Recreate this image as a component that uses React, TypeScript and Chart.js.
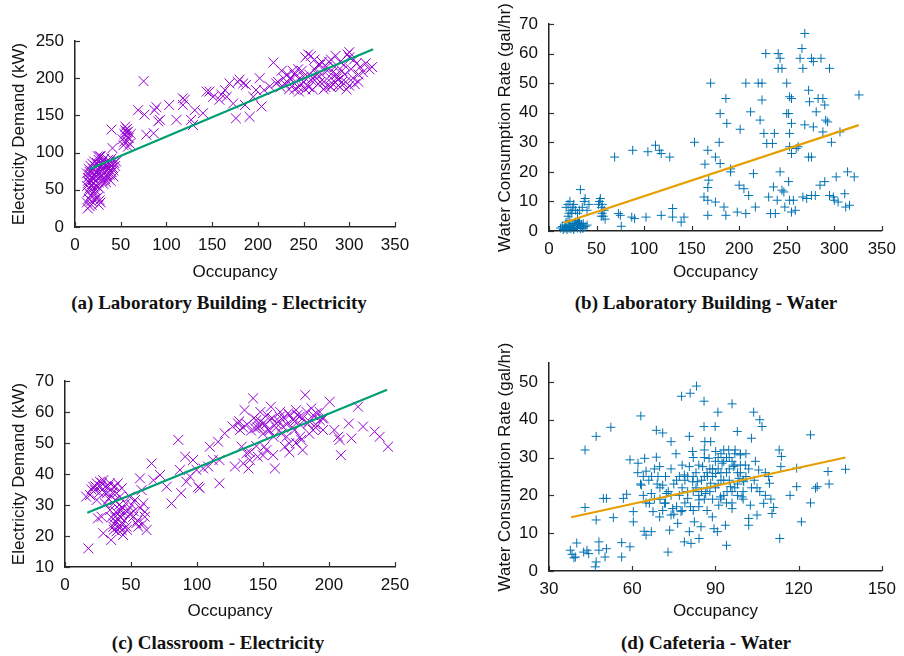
import React, { useEffect, useRef } from 'react';
import { Chart, registerables } from 'chart.js';

Chart.register(...registerables);

// ---------------- DATA ----------------
// (a) Laboratory Building - Electricity : [occupancy, kW]
const labElecPoints: number[][] = [
  [14,25],[16,28],[13,33],[18,30],[15,38],[17,42],[14,47],[19,45],[16,52],[13,55],[18,57],[15,60],[20,58],[17,63],[14,66],
  [19,67],[22,62],[16,70],[21,70],[13,72],[18,75],[23,73],[15,78],[20,78],[25,76],[17,82],[22,82],[27,80],[24,86],[29,84],
  [26,90],[30,88],[28,95],[32,92],[33,86],[35,82],[37,78],[39,84],[41,80],[43,86],[36,90],[34,75],[31,72],[38,70],[40,74],
  [42,76],[44,82],[36,66],[33,64],[30,62],[28,67],[26,60],[24,55],[22,50],[20,52],[23,45],[25,40],[27,36],[22,38],[26,30],
  [28,33],[18,35],[20,65],[24,68],[29,70],[32,78],[35,70],[37,74],[31,58],[34,60],[27,52],[30,76],[33,82],[38,88],[40,92],
  [25,95],[21,88],[19,85],[14,62],[16,74],[45,88],[42,68],[39,62],[26,72],[29,78],[27,95],[41,106],[40,131],[75,196],
  [52,118],[54,125],[55,130],[56,122],[57,115],[58,128],[59,120],[60,112],[53,110],[55,135],[57,132],[58,108],[61,125],[54,115],[56,127],
  [69,157],[76,151],[78,124],[86,126],[87,157],[89,161],[91,142],[93,144],[103,164],[111,144],[118,173],[120,171],[118,164],
  [127,144],[129,137],[131,157],[140,153],[144,182],[147,182],[151,175],[158,171],[160,178],[164,184],[166,175],[169,193],
  [173,166],[176,146],[178,195],[180,198],[184,193],[187,191],[191,148],[186,164],[195,175],[198,184],[202,200],[204,162],
  [207,184],[217,221],[213,189],[220,193],
  [222,195],[225,188],[228,200],[230,192],[232,205],[234,185],[236,198],[238,190],[240,205],[242,195],[244,188],[246,200],
  [248,210],[250,195],[252,228],[254,190],[256,205],[258,198],[260,185],[262,212],[264,200],[266,192],[268,218],[270,205],
  [272,195],[274,188],[276,210],[278,222],[280,200],[282,192],[284,215],[286,205],[288,198],[290,188],[292,210],[294,218],
  [296,195],[298,232],[300,228],[302,212],[304,200],[306,192],[308,220],[310,205],[312,215],[315,208],[318,220],[322,212],
  [325,215],[255,232],[258,230],[262,225],[266,218],[270,222],[275,215],[280,225],[285,230],[290,222],[295,205],[300,190],
  [297,185],[288,190],[248,192],[252,185],[256,188],[240,185],[245,182],[235,200],[238,210],[244,212],[250,202],[260,200],
  [265,205],[268,195],[272,185],[278,190],[282,208],[286,200],[292,195],[305,225],[310,195],[300,235],[280,188],[226,210]
];
const labElecFit: number[][] = [[16,78],[326,239]];

// (b) Laboratory Building - Water : [occupancy, gal/hr]
const labWaterPoints: number[][] = [
  [12,1],[14,1.5],[15,0.5],[16,1],[17,2],[18,1],[19,0.5],[20,1.5],[21,1],[22,2],[23,0.8],[24,1.2],[25,2.5],[26,1],[27,1.8],
  [28,3],[29,2],[30,1],[31,2.5],[32,3],[33,1.5],[34,2],[35,1],[36,2.5],[38,1.5],[40,2],[18,3],[22,3.5],[26,0.5],[30,3.5],
  [33,0.8],[36,1],
  [20,9],[22,10],[24,6],[25,8],[23,7],[26,9],[28,7],[30,6],[32,7],[33,14],[35,8],[37,10],[38,11],[40,7],[42,9],[20,5],[18,8],[21,6],
  [52,9],[53,10],[55,8],[56,6],[57,5],[58,7],[54,11],[56,9],[59,4],[55,5],
  [69,25],[76,1.6],[73,5.9],[75,5.3],[88,27.3],[87,4.7],[90,4.2],[102,4.7],[104,26.8],[112,29],[116,27.3],[118,26.2],[118,5.3],
  [127,25],[130,7.6],[130,4.7],[139,3],[142,4.7],[153,30],[163,11.5],[167,10.4],[164,22.6],[167,27.3],[168,17.2],[170,50],
  [167,14.7],[167,5.3],[175,25],[175,9.8],[179,30],[180,39.7],[180,22.8],[186,44.8],[187,36.4],[184,8.1],[186,5.3],[191,21],
  [191,20],[198,6.4],[200,15.5],[201,34.4],[205,14.3],[207,50],[207,5.9],[210,12],[212,40.3],[215,19.4],[217,8.1],[220,50],
  [224,50],[222,37.5],[224,44.3],[226,33],[228,60],[229,29.6],[231,11.5],[233,5.9],[235,29.6],[236,14.9],[237,33],[238,5.9],
  [240,10.4],[241,60],[243,58.4],[241,55],[245,55],[243,20],[245,13.8],[247,13.2],[248,8.1],[250,50],[250,39.7],[252,16.7],
  [252,39.7],[253,45.4],[255,44.8],[255,36.4],[253,33],[253,28.5],[255,26.2],[253,10.4],[255,6.4],[257,10.4],[259,7],
  [260,27.9],[262,28.5],[264,58.4],[266,61.7],[267,55],[269,66.8],[267,11.5],[269,35.9],[271,11],[273,47.6],[273,25],
  [274,43.7],[276,25],[276,58.4],[278,57.3],[276,12],[278,35.2],[280,12],[281,40.3],[283,44.8],[285,15.5],[286,58.4],
  [288,33.5],[288,44.8],[290,42.6],[291,37.5],[293,36.9],[290,16.7],[295,55],[297,30],[295,12],[299,11.5],[300,10.4],
  [302,18.3],[304,9.8],[306,33.5],[311,12.6],[312,8.1],[314,20],[316,8.7],[321,18.3],[326,46]
];
const labWaterFit: number[][] = [[15.6,2.8],[325.7,35.8]];

// (c) Classroom - Electricity : [occupancy, kW]
const classElecPoints: number[][] = [
  [17.7,16],[16,32.7],[19,33.2],[21.4,35.9],[24,37],[26.5,37.5],[29,38],[25,25.7],[27.7,26.2],[29,20.9],[35,18.7],[34,37],
  [37,35.9],[39,33.8],[38,31.6],[40,37],[43,35.4],[41.6,32.7],[36.6,30.5],[34,28.4],[38,26.2],[39,24.6],[40.4,23],[43,21.9],
  [44,20.3],[46.6,23],[45.4,27.3],[48,28.4],[50.5,30],[51.7,26.2],[54,24.1],[55.5,23],[56.8,38.6],[58,34.8],[59.3,30.5],
  [60.5,27.8],[61.8,21.9],[60.5,26.2],[53,31.6],[49,32.7],[46,30.5],[41.6,28.4],[38.6,27.8],[36.6,23],[40,25.7],[43,24],
  [31.5,33.8],[30.3,30.5],[32.8,35.9],[24,31.6],[22.6,34.8],[27,36],[30,34],[35,33],[42,26],[44,29],[37,24],[39,21.5],
  [20,35],[23,36],[26,34],[28,37],[31,36],[33,32],[36,34],[38,36],[41,30],[43,27],[45,25],[47,22],[49,27],[52,28],[55,25],
  [57,29],[59,24],[35,26],[37,22],[42,23],
  [65.6,43.4],[67,38],[72,39.7],[77,35.9],[80.7,30.5],[85.8,51],[87,41.3],[88,33.8],[91,45.6],[92,37.5],[94.6,39.2],[97,44.5],
  [99.7,41.3],[101,35.9],[102,35.4],[104.7,41.8],[108.5,42.4],[109.7,48.8],[112,44.5],[116,50.4],[117,37],[117,44.5],
  [121,53.1],[127,55.3],[128.7,42.4],[131,56.3],[132.5,54.2],[133.8,48.8],[135,43.4],[136,60.6],[137.5,46.7],[139,41.8],
  [140,44.5],[142.5,64.4],[144,54.7],[145,57.4],[146,45.6],[147.6,55.3],[150,56.3],[151,48.8],[152.6,47.7],[154,54.2],
  [155,57.4],[156,61.7],[157.7,46.1],[159,41.8],[160,56.3],[162.7,58.5],[165,55.3],[166.5,48.8],[167.8,52],[169,59.6],
  [170,49.9],[172.8,57.4],[174,54.2],[175,60.6],[177.8,58.5],[179,51],[180,47.7],[182,65.5],[184,56.3],[186.7,61.2],
  [188,54.2],[190.5,59.6],[193,57.4],[195.5,54.2],[200.5,63.3],[204,54.2],[207,52],[209,46.1],[208,51],[215,56.3],
  [217,51.5],[222,61.7],[225.8,55.3],[234.6,53.7],[238.4,52],[244.7,48.8],
  [132,57],[135,55],[138,56],[141,54],[143,58],[146,55],[148,57],[150,53],[152,56],[155,54],[157,58],[160,55],[162,57],
  [164,53],[166,58],[168,56],[170,59],[172,55],[174,57],[176,59],[178,56],[180,58],[183,60],[185,57],[188,59],[190,56],
  [193,60],[196,58],[148,60],[153,59],[158,52],[163,60],[170,47],[175,50],[178,52],[185,53],[190,55],[195,58],[145,49],
  [150,46],[140,47]
];
const classElecFit: number[][] = [[16.9,27.5],[244,67.2]];

// (d) Cafeteria - Water : [occupancy, gal/hr]
const cafeWaterPoints: number[][] = [
  [37.7,5.5],[38.3,4.4],[39.5,3.7],[40,7.4],[39,3.5],[43,32],[43,16.8],[42.5,5],[43.7,5.5],[44.3,4.6],[47,35.6],[47,13.5],
  [47,2.4],[46.7,1.1],[48,7.7],[48,5.5],[49.6,19.2],[50.2,3.7],[50.7,19.2],[50.7,5.9],[52.3,38],[53.2,14.1],[56.2,3.7],
  [56.2,7.5],[56.8,19.2],[58,20.3],[59.2,29.4],[59.2,6.4],[60.4,15.7],[60.4,13],[62.1,28.5],[63.1,41],[63.3,22.7],[64,25],
  [64.5,29.8],[64.3,10.5],[65,9.5],[65,26.4],[66.2,17.9],[66.9,20.5],[66.9,10.4],[67.5,15.7],[68.7,37.2],[68.7,30.1],
  [69.3,25],[69.9,27.6],[69.9,14.3],[71,36.5],[71,22.7],[71.7,17.9],[72.3,20.5],[72.9,5],[73.5,10.8],[74,34.2],[74,14.8],
  [74.6,16.5],[75.8,31],[76.4,12.6],[77,25],[77.6,15.7],[77.8,46.2],[78.8,25.4],[78.8,7.7],[80,19.2],[80.6,27.6],[80.6,10.4],
  [80.9,47],[81.2,7.3],[80.6,35.6],[81.8,31.6],[81.8,23.6],[82.4,13],[83.2,48.9],[83.5,23.6],[84.1,18.8],[84.1,8.6],
  [84.8,11.7],[85.4,27.6],[85.9,44.9],[85.9,38.2],[86.2,34.2],[86.5,20.5],[87.1,25],[87.7,29.8],[88.3,34.2],[88.3,23.2],
  [88.9,14.3],[89.5,11.2],[89.9,38.2],[90.1,31.6],[90.1,25.8],[90.7,10.4],[90.9,42],[91.2,17.4],[91.8,19.6],[92.4,28.5],
  [93,32],[93.6,12.1],[94,6.8],[94.2,21],[94.8,32],[95.4,22.3],[96,16.5],[96,44.2],[96.6,27.6],[97.1,32],[97.9,36.9],
  [98.5,24.5],[99,30.7],[99.6,19.6],[100.2,23.6],[100.8,28],[102,12.1],[102,13.9],[102.6,17.4],[103,35.1],[103.8,42],
  [104.4,29],[105,14.8],[105.6,26.7],[106,40],[106.8,38.2],[107.4,17.9],[108,20],[109.2,25],[109.5,23.2],[110.4,15.2],
  [111,16.8],[113,32],[113.2,8.6],[113.6,27.6],[113.8,30.3],[116.9,20],[119.3,27.2],[119.3,22.3],[121,13],[124.3,36],
  [124.3,18],[126.1,21.9],[126.7,22.3],[130.6,26.3],[131,23],[136.9,26.9],
  [76,24],[78,22],[79,18],[80,25],[82,21],[83,26],[84,20],[85,24],[86,19],[87,26],[88,21],[89,25],[90,22],[91,27],[92,24],
  [93,20],[94,26],[95,24],[96,29],[97,22],[98,26],[99,31],[100,21],[101,25],[95,30],[93,29],[91,30],[89,27],[86,30],
  [84,17],[82,16],[78,16],[76,17],[74,20],[72,18],[70,22],[68,19],[66,24],[87,16],[92,19],[96,18],[98,20],[100,24],
  [103,22],[105,22],
  [62,26],[63,23],[64,20],[65,18],[67,25],[68,27],[69,23],[70,19],[71,16],[72,25],[73,21],[74,27],[75,23],[75,15],[77,20],
  [78,28],[79,24],[80,21],[81,17],[82,25],[83,22],[84,28],[85,21],[86,25],[87,22],[88,27],[89,19],[90,29],[91,23],[92,26],
  [93,24],[94,18],[95,27],[96,21],[97,28],[98,23],[99,26],[100,19],[101,31],[102,27],[104,24],[106,21],[108,26],[110,19],
  [82,30],[86,32],[92,31],[94,30],[97,31],[99,28]
];
const cafeWaterFit: number[][] = [[38,14.2],[136.9,30]];

// axis ranges: [min, max, step]
const labElecXAxis = [0, 350, 50];
const labElecYAxis = [0, 250, 50];
const labWaterXAxis = [0, 350, 50];
const labWaterYAxis = [0, 70, 10];
const classElecXAxis = [0, 250, 50];
const classElecYAxis = [10, 70, 10];
const cafeWaterXAxis = [30, 150, 30];
const cafeWaterYAxis = [0, 55, 10];

const xTitle = 'Occupancy';
const elecYTitle = 'Electricity Demand (kW)';
const waterYTitle = 'Water Consumption Rate (gal/hr)';

// ---------------- STYLE ----------------
const PURPLE = '#9400d3';
const BLUE = '#0072b2';
const GREEN = '#009e73';
const ORANGE = '#e69f00';
const SANS = '"Liberation Sans", Arial, sans-serif';
const SERIF = '"Liberation Serif", "Times New Roman", serif';

const inwardTicks = {
  id: 'inwardTicks',
  afterDraw(chart: any) {
    const { ctx, chartArea } = chart;
    const xs = chart.scales.x;
    const ys = chart.scales.y;
    ctx.save();
    ctx.strokeStyle = '#333';
    ctx.lineWidth = 1.2;
    xs.ticks.forEach((t: any) => {
      const px = Math.round(xs.getPixelForValue(t.value)) + 0.5;
      ctx.beginPath();
      ctx.moveTo(px, chartArea.bottom);
      ctx.lineTo(px, chartArea.bottom - 5);
      ctx.stroke();
    });
    ys.ticks.forEach((t: any) => {
      const py = Math.round(ys.getPixelForValue(t.value)) + 0.5;
      ctx.beginPath();
      ctx.moveTo(chartArea.left, py);
      ctx.lineTo(chartArea.left + 5, py);
      ctx.stroke();
    });
    ctx.restore();
  },
};

type PanelProps = {
  left: number; top: number; width: number; height: number;
  area: { left: number; top: number; right: number; bottom: number };
  points: number[][]; fit: number[][];
  xAxis: number[]; yAxis: number[];
  yTitle: string; yTitlePad: number; xTitlePad: number;
  markColor: string; lineColor: string; pointStyle: string; radius: number;
};

function Panel(p: PanelProps) {
  const ref = useRef<HTMLCanvasElement | null>(null);
  useEffect(() => {
    if (!ref.current) return;
    const tickFont = { family: SANS, size: 17 };
    const chart = new Chart(ref.current, {
      type: 'scatter',
      data: {
        datasets: [
          {
            type: 'line',
            data: p.fit.map(([x, y]) => ({ x, y })),
            borderColor: p.lineColor,
            borderWidth: 2.2,
            pointRadius: 0,
            fill: false,
          } as any,
          {
            data: p.points.map(([x, y]) => ({ x, y })),
            pointStyle: p.pointStyle as any,
            pointRadius: p.radius,
            pointBorderColor: p.markColor,
            pointBackgroundColor: 'transparent',
            pointBorderWidth: 1,
            clip: false as any,
          },
        ],
      },
      options: {
        animation: false,
        responsive: false,
        events: [],
        layout: {
          padding: { left: 0, top: p.area.top, right: p.width - p.area.right, bottom: 0 },
        },
        plugins: { legend: { display: false }, tooltip: { enabled: false }, title: { display: false } },
        scales: {
          x: {
            type: 'linear',
            min: p.xAxis[0], max: p.xAxis[1],
            grid: { display: false, drawTicks: false },
            border: { display: true, color: '#222', width: 1.5 },
            ticks: { stepSize: p.xAxis[2], color: '#111', font: tickFont, padding: 8, includeBounds: false, maxRotation: 0 },
            title: { display: true, text: xTitle, color: '#111', font: tickFont, padding: { top: 0, bottom: p.xTitlePad } },
            afterFit: (s: any) => { s.height = p.height - p.area.bottom; },
          },
          y: {
            type: 'linear',
            min: p.yAxis[0], max: p.yAxis[1],
            grid: { display: false, drawTicks: false },
            border: { display: true, color: '#222', width: 1.5 },
            ticks: { stepSize: p.yAxis[2], color: '#111', font: tickFont, padding: 11, includeBounds: false },
            title: { display: true, text: p.yTitle, color: '#111', font: tickFont, padding: { top: p.yTitlePad, bottom: 0 } },
            afterFit: (s: any) => { s.width = p.area.left; },
          },
        },
      } as any,
      plugins: [inwardTicks],
    });
    return () => chart.destroy();
  }, []);
  return (
    <canvas
      ref={ref}
      width={p.width}
      height={p.height}
      style={{ position: 'absolute', left: p.left, top: p.top, width: p.width, height: p.height }}
    />
  );
}

function Caption({ text, cx, cy }: { text: string; cx: number; cy: number }) {
  return (
    <div
      style={{
        position: 'absolute', left: cx - 200, top: cy - 12, width: 400, height: 24, lineHeight: '24px',
        textAlign: 'center', fontFamily: SERIF, fontWeight: 'bold', fontSize: 19, color: '#111', whiteSpace: 'nowrap',
      }}
    >
      {text}
    </div>
  );
}

export default function App() {
  return (
    <div style={{ position: 'absolute', left: 0, top: 0, width: 904, height: 656, background: '#fff', overflow: 'hidden' }}>
      <Panel left={0} top={0} width={452} height={290} area={{ left: 75, top: 41, right: 395, bottom: 227 }}
        points={labElecPoints} fit={labElecFit} xAxis={labElecXAxis} yAxis={labElecYAxis}
        yTitle={elecYTitle} yTitlePad={8.8} xTitlePad={7.8} markColor={PURPLE} lineColor={GREEN} pointStyle="crossRot" radius={7} />
      <Panel left={452} top={0} width={452} height={290} area={{ left: 97, top: 24, right: 433, bottom: 231 }}
        points={labWaterPoints} fit={labWaterFit} xAxis={labWaterXAxis} yAxis={labWaterYAxis}
        yTitle={waterYTitle} yTitlePad={42.8} xTitlePad={7.8} markColor={BLUE} lineColor={ORANGE} pointStyle="cross" radius={4.5} />
      <Panel left={0} top={330} width={452} height={296} area={{ left: 65, top: 51, right: 395, bottom: 237 }}
        points={classElecPoints} fit={classElecFit} xAxis={classElecXAxis} yAxis={classElecYAxis}
        yTitle={elecYTitle} yTitlePad={8.8} xTitlePad={4.8} markColor={PURPLE} lineColor={GREEN} pointStyle="crossRot" radius={7} />
      <Panel left={452} top={330} width={452} height={296} area={{ left: 97, top: 33, right: 433, bottom: 241 }}
        points={cafeWaterPoints} fit={cafeWaterFit} xAxis={cafeWaterXAxis} yAxis={cafeWaterYAxis}
        yTitle={waterYTitle} yTitlePad={42.8} xTitlePad={4.5} markColor={BLUE} lineColor={ORANGE} pointStyle="cross" radius={4.5} />
      <Caption text="(a) Laboratory Building - Electricity" cx={219} cy={303} />
      <Caption text="(b) Laboratory Building - Water" cx={706} cy={303} />
      <Caption text="(c) Classroom - Electricity" cx={218} cy={643} />
      <Caption text="(d) Cafeteria - Water" cx={706} cy={643} />
    </div>
  );
}
